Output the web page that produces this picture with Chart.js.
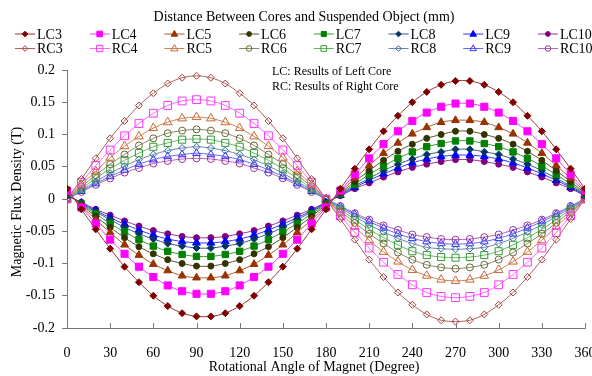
<!DOCTYPE html>
<html>
<head>
<meta charset="utf-8">
<script src="https://cdn.jsdelivr.net/npm/chart.js"></script>
<style>
  html, body { margin: 0; padding: 0; background: #fff; }
  #wrap { width: 592px; height: 376px; }
</style>
</head>
<body>
<div id="wrap"><canvas id="flux" width="592" height="376"></canvas></div>
<script>
// rotation angle (degree)
const angles = [0, 10, 20, 30, 40, 50, 60, 70, 80, 90, 100, 110, 120, 130, 140, 150, 160, 170, 180,
  190, 200, 210, 220, 230, 240, 250, 260, 270, 280, 290, 300, 310, 320, 330, 340, 350, 360];

// left core (T)
const lc3 = [0.016, -0.016, -0.047, -0.077, -0.105, -0.129, -0.150, -0.166, -0.177, -0.182, -0.182, -0.177, -0.166, -0.150, -0.129, -0.105, -0.077, -0.047, -0.016,
  0.016, 0.047, 0.077, 0.105, 0.129, 0.150, 0.166, 0.177, 0.183, 0.183, 0.177, 0.166, 0.150, 0.129, 0.105, 0.077, 0.047, 0.016];
const lc4 = [0.013, -0.013, -0.038, -0.063, -0.085, -0.105, -0.121, -0.134, -0.143, -0.147, -0.147, -0.143, -0.134, -0.121, -0.105, -0.085, -0.063, -0.038, -0.013,
  0.013, 0.038, 0.063, 0.085, 0.105, 0.121, 0.134, 0.143, 0.148, 0.148, 0.143, 0.134, 0.121, 0.105, 0.085, 0.063, 0.038, 0.013];
const lc5 = [0.011, -0.011, -0.032, -0.052, -0.071, -0.087, -0.101, -0.111, -0.119, -0.122, -0.122, -0.119, -0.111, -0.101, -0.087, -0.071, -0.052, -0.032, -0.011,
  0.011, 0.032, 0.052, 0.071, 0.087, 0.101, 0.111, 0.119, 0.122, 0.122, 0.119, 0.111, 0.101, 0.087, 0.071, 0.052, 0.032, 0.011];
const lc6 = [0.009, -0.009, -0.027, -0.044, -0.060, -0.074, -0.085, -0.094, -0.100, -0.104, -0.104, -0.100, -0.094, -0.085, -0.074, -0.060, -0.044, -0.027, -0.009,
  0.009, 0.027, 0.044, 0.060, 0.074, 0.085, 0.094, 0.100, 0.105, 0.105, 0.100, 0.094, 0.085, 0.074, 0.060, 0.044, 0.027, 0.009];
const lc7 = [0.008, -0.008, -0.023, -0.038, -0.051, -0.063, -0.073, -0.081, -0.086, -0.089, -0.089, -0.086, -0.081, -0.073, -0.063, -0.051, -0.038, -0.023, -0.008,
  0.008, 0.023, 0.038, 0.051, 0.063, 0.073, 0.081, 0.086, 0.090, 0.090, 0.086, 0.081, 0.073, 0.063, 0.051, 0.038, 0.023, 0.008];
const lc8 = [0.007, -0.007, -0.020, -0.032, -0.044, -0.054, -0.062, -0.069, -0.073, -0.076, -0.076, -0.073, -0.069, -0.062, -0.054, -0.044, -0.032, -0.020, -0.007,
  0.007, 0.020, 0.032, 0.044, 0.054, 0.062, 0.069, 0.073, 0.077, 0.077, 0.073, 0.069, 0.062, 0.054, 0.044, 0.032, 0.020, 0.007];
const lc9 = [0.006, -0.006, -0.018, -0.029, -0.039, -0.048, -0.056, -0.062, -0.066, -0.068, -0.068, -0.066, -0.062, -0.056, -0.048, -0.039, -0.029, -0.018, -0.006,
  0.006, 0.018, 0.029, 0.039, 0.048, 0.056, 0.062, 0.066, 0.068, 0.068, 0.066, 0.062, 0.056, 0.048, 0.039, 0.029, 0.018, 0.006];
const lc10 = [0.005, -0.005, -0.016, -0.025, -0.034, -0.042, -0.049, -0.054, -0.058, -0.060, -0.060, -0.058, -0.054, -0.049, -0.042, -0.034, -0.025, -0.016, -0.005,
  0.005, 0.016, 0.025, 0.034, 0.042, 0.049, 0.054, 0.058, 0.061, 0.061, 0.058, 0.054, 0.049, 0.042, 0.034, 0.025, 0.016, 0.005];

// right core (T)
const rc3 = [0, 0.031, 0.063, 0.094, 0.121, 0.145, 0.164, 0.179, 0.188, 0.191, 0.188, 0.179, 0.164, 0.145, 0.121, 0.094, 0.063, 0.031, 0,
  -0.031, -0.063, -0.094, -0.121, -0.145, -0.164, -0.179, -0.188, -0.190, -0.188, -0.179, -0.164, -0.145, -0.121, -0.094, -0.063, -0.031, 0];
const rc4 = [0, 0.026, 0.052, 0.076, 0.098, 0.117, 0.133, 0.145, 0.152, 0.154, 0.152, 0.145, 0.133, 0.117, 0.098, 0.076, 0.052, 0.026, 0,
  -0.026, -0.052, -0.076, -0.098, -0.117, -0.133, -0.145, -0.151, -0.153, -0.151, -0.145, -0.133, -0.117, -0.098, -0.076, -0.052, -0.026, 0];
const rc5 = [0, 0.022, 0.043, 0.064, 0.082, 0.097, 0.110, 0.119, 0.125, 0.127, 0.125, 0.119, 0.110, 0.097, 0.082, 0.064, 0.043, 0.022, 0,
  -0.022, -0.043, -0.064, -0.082, -0.097, -0.110, -0.119, -0.125, -0.127, -0.125, -0.119, -0.110, -0.097, -0.082, -0.064, -0.043, -0.022, 0];
const rc6 = [0, 0.019, 0.037, 0.054, 0.069, 0.083, 0.094, 0.102, 0.106, 0.108, 0.106, 0.102, 0.094, 0.083, 0.069, 0.054, 0.037, 0.019, 0,
  -0.019, -0.037, -0.054, -0.069, -0.083, -0.094, -0.102, -0.106, -0.108, -0.106, -0.102, -0.094, -0.083, -0.069, -0.054, -0.037, -0.019, 0];
const rc7 = [0, 0.016, 0.032, 0.047, 0.060, 0.071, 0.081, 0.087, 0.092, 0.093, 0.092, 0.087, 0.081, 0.071, 0.060, 0.047, 0.032, 0.016, 0,
  -0.016, -0.032, -0.047, -0.060, -0.071, -0.081, -0.087, -0.090, -0.091, -0.090, -0.087, -0.081, -0.071, -0.060, -0.047, -0.032, -0.016, 0];
const rc8 = [0, 0.014, 0.027, 0.040, 0.051, 0.061, 0.069, 0.075, 0.079, 0.081, 0.079, 0.075, 0.069, 0.061, 0.051, 0.040, 0.027, 0.014, 0,
  -0.014, -0.027, -0.040, -0.051, -0.061, -0.069, -0.075, -0.077, -0.078, -0.077, -0.075, -0.069, -0.061, -0.051, -0.040, -0.027, -0.014, 0];
const rc9 = [0, 0.012, 0.024, 0.035, 0.045, 0.054, 0.061, 0.066, 0.069, 0.071, 0.069, 0.066, 0.061, 0.054, 0.045, 0.035, 0.024, 0.012, 0,
  -0.012, -0.024, -0.035, -0.045, -0.054, -0.061, -0.066, -0.069, -0.070, -0.069, -0.066, -0.061, -0.054, -0.045, -0.035, -0.024, -0.012, 0];
const rc10 = [0, 0.011, 0.022, 0.032, 0.041, 0.048, 0.055, 0.059, 0.062, 0.063, 0.062, 0.059, 0.055, 0.048, 0.041, 0.032, 0.022, 0.011, 0,
  -0.011, -0.022, -0.032, -0.041, -0.048, -0.055, -0.059, -0.062, -0.063, -0.062, -0.059, -0.055, -0.048, -0.041, -0.032, -0.022, -0.011, 0];

const xTicks = [0, 30, 60, 90, 120, 150, 180, 210, 240, 270, 300, 330, 360];
const yTicks = [-0.2, -0.15, -0.1, -0.05, 0, 0.05, 0.1, 0.15, 0.2];

const SERIF = '"Liberation Serif", "Times New Roman", serif';

// name, values, marker colour, line colour, point style, radius, filled
const seriesDefs = [
  ['LC3', lc3, '#800000', '#993333', 'rectRot', 3.5, true],
  ['LC4', lc4, '#ff00ff', '#ff33ff', 'rect', 5, true],
  ['LC5', lc5, '#993300', '#b3592d', 'triangle', 4.5, true],
  ['LC6', lc6, '#333300', '#55552e', 'circle', 3, true],
  ['LC7', lc7, '#008000', '#339933', 'rect', 4.5, true],
  ['LC8', lc8, '#003366', '#335c85', 'rectRot', 3.5, true],
  ['LC9', lc9, '#0000ff', '#3333ff', 'triangle', 4.5, true],
  ['LC10', lc10, '#800080', '#993399', 'circle', 3, true],
  ['RC3', rc3, '#a0403a', '#b06060', 'rectRot', 3.5, false],
  ['RC4', rc4, '#ff33ff', '#ff66ff', 'rect', 5.5, false],
  ['RC5', rc5, '#cc6633', '#cc8055', 'triangle', 5, false],
  ['RC6', rc6, '#666633', '#888866', 'circle', 3.5, false],
  ['RC7', rc7, '#339933', '#66b366', 'rect', 5, false],
  ['RC8', rc8, '#336699', '#6688aa', 'rectRot', 3.5, false],
  ['RC9', rc9, '#3333ff', '#6666ff', 'triangle', 4.5, false],
  ['RC10', rc10, '#993399', '#b366b3', 'circle', 3.5, false]
];

const datasets = seriesDefs.map(d => ({
  label: d[0],
  data: angles.map((a, i) => ({ x: a, y: d[1][i] })),
  borderColor: d[3],
  borderWidth: 1,
  pointStyle: d[4],
  pointRadius: d[5],
  pointBorderColor: d[2],
  pointBackgroundColor: d[6] ? d[2] : 'rgba(255,255,255,0)',
  pointBorderWidth: 1,
  tension: 0.3,
  fill: false
}));

function marker(ctx, style, x, y, r, stroke, fill) {
  ctx.beginPath();
  if (style === 'circle') {
    ctx.arc(x, y, r, 0, Math.PI * 2);
  } else if (style === 'rect') {
    const s = r * Math.SQRT1_2;
    ctx.rect(x - s, y - s, 2 * s, 2 * s);
  } else if (style === 'rectRot') {
    ctx.moveTo(x, y - r); ctx.lineTo(x + r, y); ctx.lineTo(x, y + r); ctx.lineTo(x - r, y); ctx.closePath();
  } else if (style === 'triangle') {
    ctx.moveTo(x, y - r); ctx.lineTo(x + r * 0.9, y + r * 0.6); ctx.lineTo(x - r * 0.9, y + r * 0.6); ctx.closePath();
  }
  if (fill) { ctx.fillStyle = stroke; ctx.fill(); }
  ctx.strokeStyle = stroke; ctx.lineWidth = 1; ctx.stroke();
}

const decor = {
  id: 'decor',
  afterDraw(chart) {
    const ctx = chart.ctx;
    const area = chart.chartArea;
    const xs = chart.scales.x;
    ctx.save();
    ctx.fillStyle = '#000';
    ctx.textBaseline = 'middle';

    // title
    ctx.font = '14px ' + SERIF;
    ctx.textAlign = 'center';
    ctx.fillText('Distance Between Cores and Suspended Object (mm)', 304, 17);

    // legend, 8 columns x 2 rows
    seriesDefs.forEach((d, i) => {
      const col = i % 8, row = Math.floor(i / 8);
      const x0 = 15 + col * 74.7, y0 = 34 + row * 14.5;
      ctx.strokeStyle = d[3]; ctx.lineWidth = 1;
      ctx.beginPath(); ctx.moveTo(x0, y0); ctx.lineTo(x0 + 20, y0); ctx.stroke();
      marker(ctx, d[4], x0 + 10, y0, d[5] * 0.8, d[2], d[6]);
      ctx.fillStyle = '#000';
      ctx.font = '14px ' + SERIF;
      ctx.textAlign = 'left';
      ctx.fillText(d[0], x0 + 22, y0 + 1);
    });

    // note
    ctx.font = '12px ' + SERIF;
    ctx.textAlign = 'left';
    ctx.fillText('LC: Results of Left Core', 272, 72);
    ctx.fillText('RC: Results of Right Core', 272, 87);

    // x ticks point inward
    ctx.strokeStyle = '#777'; ctx.lineWidth = 1;
    xTicks.forEach(v => {
      const px = Math.round(xs.getPixelForValue(v)) + 0.5;
      ctx.beginPath(); ctx.moveTo(px, area.bottom); ctx.lineTo(px, area.bottom - 5); ctx.stroke();
    });

    // axis titles
    ctx.font = '14px ' + SERIF;
    ctx.textAlign = 'center';
    ctx.fillText('Rotational Angle of Magnet (Degree)', 314, 367);
    ctx.save();
    ctx.translate(17, 202);
    ctx.rotate(-Math.PI / 2);
    ctx.fillText('Magnetic Flux Density (T)', 0, 0);
    ctx.restore();
    ctx.restore();
  }
};

new Chart(document.getElementById('flux'), {
  type: 'line',
  data: { datasets: datasets },
  options: {
    responsive: false,
    animation: false,
    layout: { padding: { top: 70, right: 7, bottom: 0, left: 0 } },
    plugins: { legend: { display: false }, tooltip: { enabled: false } },
    scales: {
      x: {
        type: 'linear',
        min: 0, max: 360,
        afterBuildTicks: s => { s.ticks = xTicks.map(v => ({ value: v })); },
        afterFit: s => { s.height = 48; s.paddingLeft = 0; s.paddingRight = 0; },
        grid: { display: true, drawOnChartArea: false, drawTicks: false },
        border: { color: '#777' },
        ticks: { padding: 17, color: '#000', font: { family: SERIF, size: 14 }, maxRotation: 0 }
      },
      y: {
        min: -0.2, max: 0.2,
        afterBuildTicks: s => { s.ticks = yTicks.map(v => ({ value: v })); },
        afterFit: s => { s.width = 67; s.paddingTop = 0; s.paddingBottom = 0; },
        grid: { drawOnChartArea: false, drawTicks: true, tickLength: 5, color: '#777' },
        border: { color: '#777' },
        ticks: {
          padding: 7, color: '#000', font: { family: SERIF, size: 14 },
          callback: v => String(+v.toFixed(2))
        }
      }
    }
  },
  plugins: [decor]
});
</script>
</body>
</html>
